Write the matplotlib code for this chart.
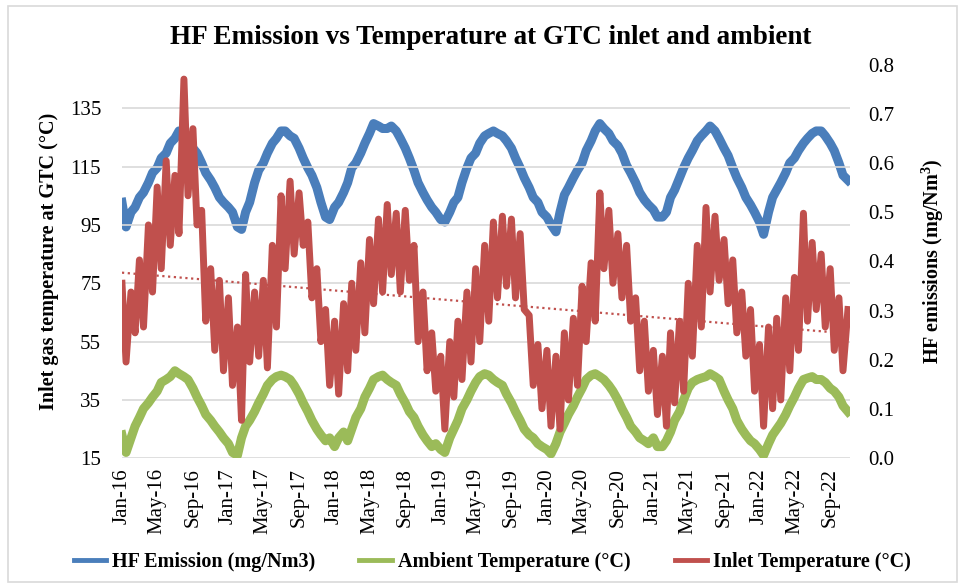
import numpy as np
import pandas as pd
import matplotlib
matplotlib.use("Agg")
import matplotlib.pyplot as plt
import matplotlib.dates as mdates
from matplotlib.lines import Line2D
from matplotlib.patches import Rectangle

plt.rcParams["font.family"] = ["Liberation Serif", "DejaVu Serif"]

# semi-monthly readings (1st and 15th), Jan 2016 .. Nov 2022
dates = pd.date_range("2016-01-01", "2022-11-01", freq="SMS")

hf_emission = [
    0.52, 0.47, 0.50, 0.51, 0.53, 0.54, 0.56, 0.58, 0.59, 0.61, 0.62, 0.64,
    0.65, 0.665, 0.66, 0.65, 0.63, 0.62, 0.60, 0.58, 0.565, 0.55, 0.53, 0.52,
    0.51, 0.50, 0.47, 0.465, 0.50, 0.52, 0.56, 0.585, 0.60, 0.62, 0.64, 0.65,
    0.665, 0.665, 0.655, 0.65, 0.63, 0.61, 0.59, 0.575, 0.55, 0.52, 0.49, 0.485,
    0.51, 0.52, 0.54, 0.56, 0.59, 0.60, 0.62, 0.64, 0.66, 0.68, 0.675, 0.67,
    0.67, 0.675, 0.665, 0.65, 0.63, 0.61, 0.585, 0.56, 0.54, 0.525, 0.51, 0.50,
    0.485, 0.48, 0.50, 0.52, 0.53, 0.56, 0.59, 0.61, 0.62, 0.64, 0.655, 0.66,
    0.665, 0.66, 0.655, 0.645, 0.63, 0.61, 0.59, 0.57, 0.55, 0.53, 0.52, 0.50,
    0.49, 0.475, 0.46, 0.50, 0.535, 0.55, 0.57, 0.585, 0.60, 0.625, 0.645, 0.665,
    0.68, 0.67, 0.66, 0.645, 0.635, 0.62, 0.595, 0.58, 0.56, 0.54, 0.525, 0.515,
    0.505, 0.49, 0.49, 0.50, 0.53, 0.545, 0.57, 0.59, 0.61, 0.625, 0.645, 0.655,
    0.665, 0.675, 0.665, 0.65, 0.63, 0.615, 0.59, 0.57, 0.55, 0.53, 0.515, 0.50,
    0.48, 0.455, 0.50, 0.53, 0.545, 0.56, 0.58, 0.60, 0.61, 0.625, 0.64, 0.65,
    0.66, 0.665, 0.665, 0.655, 0.64, 0.625, 0.60, 0.575, 0.565,
]

ambient_temp = [
    23, 17, 22, 26, 29, 32, 34, 36, 38, 41, 42, 43,
    45, 44, 43, 42, 39, 36, 33, 30, 28, 26, 24, 22,
    20, 17, 16, 22, 26, 28, 31, 34, 37, 40, 42, 43,
    43.5, 43, 42, 40, 37, 34, 31, 28, 25, 23, 21, 22,
    19, 22, 24, 21, 25, 29, 32, 36, 39, 42, 43, 43.5,
    42, 41, 40, 37, 34, 31, 29, 26, 23, 21, 19, 20,
    18, 17, 22, 25, 28, 32, 35, 38, 41, 43, 44, 43.5,
    42, 41, 40, 37, 34, 31, 28, 25, 23, 22, 20, 19,
    18, 16.5, 20, 24, 27, 30, 33, 36, 39, 42, 43.5, 44,
    43, 42, 40, 38, 35, 32, 29, 26, 24, 22, 21, 20,
    22, 19, 19, 21, 24, 28, 31, 35, 39, 41, 42, 42.5,
    43, 44, 43, 42, 38, 35, 32, 28, 25, 23, 21, 20,
    18, 16, 20, 23, 25, 27, 30, 33, 36, 39, 42, 42.5,
    43, 42, 42, 41, 39, 38, 36, 33, 31,
]

inlet_temp = [
    75, 48, 72, 58, 83, 60, 95, 72, 108, 80, 117, 88,
    112, 92, 145, 105, 128, 95, 100, 62, 80, 52, 76, 45,
    70, 40, 60, 28, 78, 48, 72, 50, 76, 46, 88, 60,
    105, 80, 110, 85, 106, 88, 96, 70, 80, 55, 66, 40,
    62, 37, 68, 45, 75, 52, 82, 58, 90, 68, 97, 72,
    102, 78, 99, 72, 100, 76, 88, 55, 72, 45, 58, 38,
    50, 25, 55, 36, 62, 42, 72, 48, 80, 55, 88, 62,
    96, 70, 98, 74, 97, 70, 92, 66, 64, 40, 54, 32,
    52, 26, 50, 25, 58, 35, 63, 40, 74, 55, 82, 62,
    106, 80, 100, 75, 92, 70, 88, 62, 70, 45, 62, 38,
    52, 30, 50, 26, 58, 34, 62, 38, 75, 50, 88, 60,
    101, 72, 98, 76, 90, 68, 83, 58, 72, 50, 66, 38,
    54, 26, 60, 32, 63, 35, 70, 45, 77, 52, 99, 62,
    89, 66, 85, 60, 80, 52, 70, 45, 66,
]

c_blue = "#4A7EBB"
c_green = "#9BBB59"
c_red = "#C0504D"

fig = plt.figure(figsize=(9.65, 5.87), dpi=100)
fig.patches.append(Rectangle((0.008, 0.008), 0.984, 0.982, transform=fig.transFigure,
                             fill=False, edgecolor="#D9D9D9", linewidth=1.2))

ax = fig.add_axes([0.1264, 0.2193, 0.7544, 0.6708])
ax2 = ax.twinx()
ax.set_zorder(ax2.get_zorder() + 1)
ax.patch.set_visible(False)

ax2.plot(dates, hf_emission, color=c_blue, lw=6.5)
ax.plot(dates, ambient_temp, color=c_green, lw=6.5)
ax.plot(dates, inlet_temp, color=c_red, lw=5)

# linear trend of inlet temperature
xnum = mdates.date2num(dates)
k, b = np.polyfit(xnum, inlet_temp, 1)
ax.plot(dates, k * xnum + b, color=c_red, lw=1.6, linestyle=(0, (1, 1.6)))

ax.set_xlim(dates[0], dates[-1] + pd.Timedelta(days=7))
ax.set_ylim(15, 150)
ax.set_yticks(np.arange(15, 136, 20))
ax2.set_ylim(0, 0.8)
ax2.set_yticks(np.arange(0, 0.81, 0.1))
ax2.yaxis.set_major_formatter(plt.FuncFormatter(lambda v, p: f"{v:.1f}"))

ax.xaxis.set_major_locator(mdates.MonthLocator(bymonth=[1, 5, 9]))
ax.xaxis.set_major_formatter(mdates.DateFormatter("%b-%y"))
for lbl in ax.get_xticklabels():
    lbl.set_rotation(90)

ax.grid(axis="y", color="#D9D9D9", lw=1.2)
for a in (ax, ax2):
    for s in a.spines.values():
        s.set_visible(False)
    a.tick_params(length=0, labelsize=15, colors="black")
ax.tick_params(axis="x", pad=7)
ax.tick_params(axis="y", pad=15)
ax2.tick_params(axis="y", pad=13)

ax.set_ylabel("Inlet gas temperature at GTC (°C)", fontsize=14.5, fontweight="bold", labelpad=8)
ax2.set_ylabel("HF emissions (mg/Nm$^\\mathregular{3}$)", fontsize=14.5, fontweight="bold", labelpad=18)

fig.suptitle("HF Emission vs Temperature at GTC inlet and ambient", x=0.508, y=0.958,
             fontsize=19.5, fontweight="bold")

handles = [Line2D([], [], color=c_blue, lw=3.5),
           Line2D([], [], color=c_green, lw=3.5),
           Line2D([], [], color=c_red, lw=3.5)]
labels = ["HF Emission (mg/Nm3)", "Ambient Temperature (°C)", "Inlet Temperature (°C)"]
fig.legend(handles, labels, loc="center", bbox_to_anchor=(0.51, 0.042), ncol=3, frameon=False,
           prop={"size": 14.5, "weight": "bold"}, handlelength=1.6, handletextpad=0.3, columnspacing=2.2)

fig.savefig("out.png", dpi=100)
